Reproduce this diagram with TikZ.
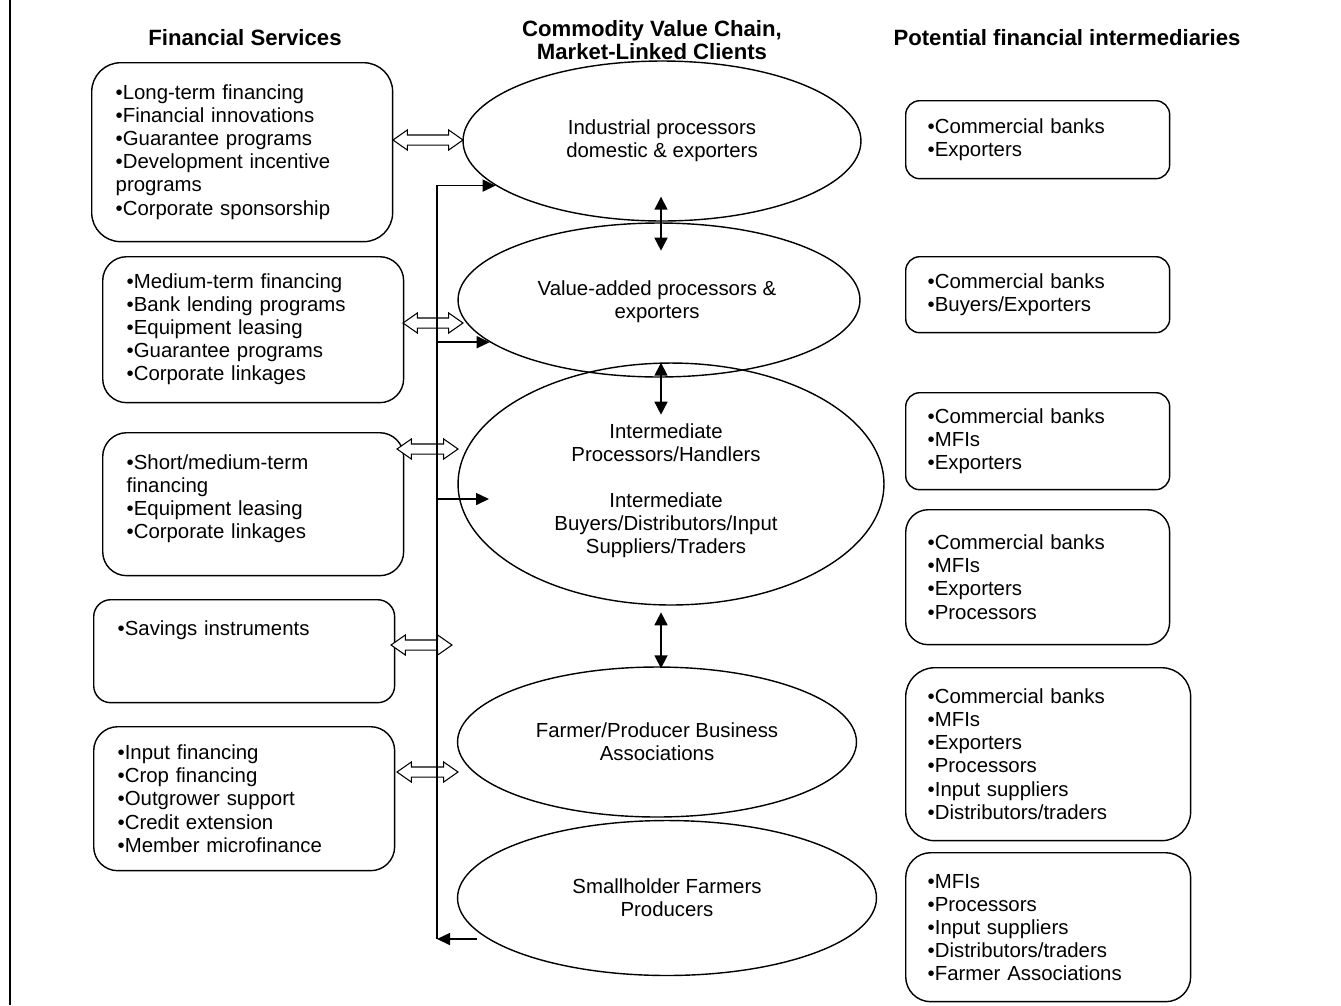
\documentclass[tikz,border=0pt]{standalone}
\usepackage{fontspec}
\setmainfont{Liberation Sans}
\usepackage{tikz}
\usetikzlibrary{shapes.geometric, shapes.arrows, arrows.meta, calc}

\newcommand{\itm}{\textbullet}

\begin{document}
\begin{tikzpicture}[
    x=0.02cm, y=-0.02cm,
    every node/.style={font=\fontsize{11.6}{13.1}\selectfont},
    head/.style={font=\fontsize{12.6}{13.1}\selectfont\bfseries, align=center},
    service/.style={rectangle, draw, line width=0.8pt, rounded corners=0.48cm, anchor=north west, align=left, text width=5.06cm, inner xsep=0.48cm, inner ysep=0pt},
    agent/.style={rectangle, draw, line width=0.8pt, rounded corners=0.28cm, anchor=north west, align=left, text width=4.4cm, inner xsep=0.44cm, inner ysep=0pt},
    client/.style={ellipse, draw, line width=0.8pt, align=center, inner sep=0pt},
    dblarrow/.style={double arrow, draw, fill=white, line width=0.6pt, minimum width=0.38cm, double arrow head extend=0.1cm, double arrow tip angle=70, inner xsep=0pt, inner ysep=0.09cm},
    link/.style={line width=0.9pt, -{Triangle[length=0.26cm, width=0.24cm]}},
    vlink/.style={line width=0.9pt, {Triangle[length=0.26cm, width=0.26cm]}-{Triangle[length=0.26cm, width=0.26cm]}}
]
    \useasboundingbox (0,0) rectangle (1341,1005);
    \draw[line width=1.2pt] (10,0) -- (10,1005);

    \node (hserv) [head] at (245,38) {Financial Services};
    \node (hchain) [head] at (652,40) {Commodity Value Chain,\\Market-Linked Clients};
    \node (hagent) [head] at (1067,38) {Potential financial intermediaries};

    \node (s1) [service, minimum height=3.58cm, rounded corners=0.58cm] at (91,62) {\itm Long-term financing\\\itm Financial innovations\\\itm Guarantee programs\\\itm Development incentive\\programs\\\itm Corporate sponsorship};
    \node (s2) [service, minimum height=2.92cm] at (102,256) {\itm Medium-term financing\\\itm Bank lending programs\\\itm Equipment leasing\\\itm Guarantee programs\\\itm Corporate linkages};
    \node (s3) [service, minimum height=2.86cm] at (102,432) {\itm Short/medium-term\\financing\\\itm Equipment leasing\\\itm Corporate linkages\\[-4pt]\mbox{}};
    \node (s4) [service, minimum height=2.06cm, rounded corners=0.34cm] at (93,599) {\itm Savings instruments\\\mbox{}\\\mbox{}};
    \node (s5) [service, minimum height=2.88cm] at (93,726) {\itm Input financing\\\itm Crop financing\\\itm Outgrower support\\\itm Credit extension\\\itm Member microfinance};

    \node (c1) [client, minimum width=7.96cm, minimum height=3.2cm] at (662,141) {Industrial processors\\domestic \& exporters};
    \node (c2) [client, minimum width=8.04cm, minimum height=3.08cm] at (659,300) {};
    \node (c2text) [align=center] at (657,302) {Value-added processors \&\\exporters};
    \node (c3) [client, minimum width=8.52cm, minimum height=4.84cm] at (671,484) {};
    \node (c3text) [align=center] at (666,491) {Intermediate\\Processors/Handlers\\[13.1pt]Intermediate\\Buyers/Distributors/Input\\Suppliers/Traders};
    \node (c4) [client, minimum width=7.98cm, minimum height=3.0cm] at (657,742) {Farmer/Producer Business\\Associations};
    \node (c5) [client, minimum width=8.38cm, minimum height=3.1cm] at (667,898) {Smallholder Farmers\\Producers};

    \node (a1) [agent, minimum height=1.56cm] at (905,100) {\itm Commercial banks\\\itm Exporters};
    \node (a2) [agent, minimum height=1.52cm] at (905,256) {\itm Commercial banks\\\itm Buyers/Exporters};
    \node (a3) [agent, minimum height=1.94cm] at (905,392) {\itm Commercial banks\\\itm MFIs\\\itm Exporters};
    \node (a4) [agent, minimum height=2.7cm, rounded corners=0.45cm] at (905,509) {\itm Commercial banks\\\itm MFIs\\\itm Exporters\\\itm Processors};
    \node (a5) [agent, minimum height=3.46cm, text width=4.82cm, rounded corners=0.58cm] at (905,667) {\itm Commercial banks\\\itm MFIs\\\itm Exporters\\\itm Processors\\\itm Input suppliers\\\itm Distributors/traders};
    \node (a6) [agent, minimum height=2.98cm, text width=4.82cm, rounded corners=0.5cm] at (905,852) {\itm MFIs\\\itm Processors\\\itm Input suppliers\\\itm Distributors/traders\\\itm Farmer Associations};

    \node (d1) [dblarrow, minimum height=1.4cm] at (428,140) {};
    \node (d2) [dblarrow, minimum height=1.2cm] at (433,323) {};
    \node (d3) [dblarrow, minimum height=1.22cm] at (427.5,449) {};
    \node (d4) [dblarrow, minimum height=1.22cm] at (421.5,645) {};
    \node (d5) [dblarrow, minimum height=1.22cm] at (427.5,772) {};

    \coordinate (busbot) at (437,939);
    \draw [link] ($(c5.west)+(20,41)$) -- (busbot);
    \draw [link] (busbot) |- (c1.195);
    \draw [link] (busbot |- c2.194) -- (c2.194);
    \draw [link] ($(busbot |- c3.west)+(0,15)$) -- ++(52,0);

    \draw [vlink] ($(c1.south)+(-1,-25)$) -- ++(0,54);
    \draw [vlink] ($(c2.south)+(2,-15)$) -- ++(0,52);
    \draw [vlink] ($(c4.north)+(4,-54)$) -- ++(0,56);
\end{tikzpicture}
\end{document}
